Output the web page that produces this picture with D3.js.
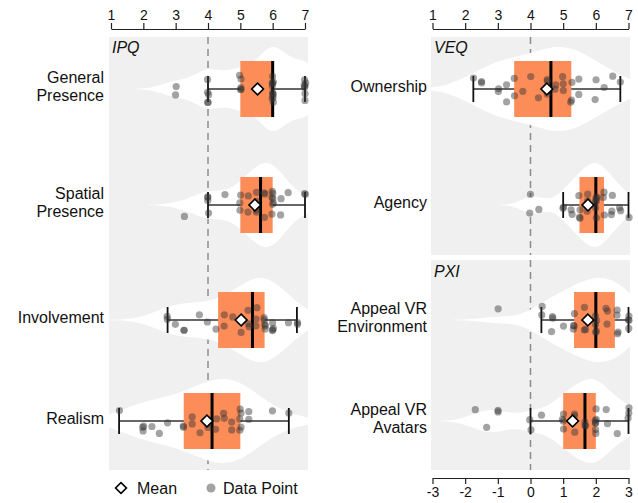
<!DOCTYPE html>
<html>
<head>
<meta charset="utf-8">
<script src="https://cdn.jsdelivr.net/npm/d3@7"></script>
<style>
  body { margin: 0; background: #fff; }
  svg text { font-family: "Liberation Sans", Arial, Helvetica, sans-serif; }
</style>
</head>
<body>
<svg id="chart" width="638" height="503"></svg>
<script>
// ---- Participant scores (n = 30) ----
// IPQ subscales, 1..7
const generalPresence = [3, 3, 4, 4, 4, 4, 4, 5, 5, 5, 5, 5, 6, 6, 6, 6, 6, 6, 6, 6, 6, 6, 6, 7, 7, 7, 7, 7, 7, 7];
const spatialPresence = [3.25, 4, 4, 4, 4, 4.5, 5, 5, 5, 5.25, 5.25, 5.5, 5.5, 5.5, 5.5, 5.75, 5.75, 5.75, 6, 6, 6, 6, 6, 6, 6, 6.25, 6.25, 6.5, 7, 7];
const involvement = [2.75, 2.75, 3, 3.25, 3.25, 3.75, 4, 4.25, 4.5, 4.5, 4.75, 5, 5.25, 5.25, 5.25, 5.5, 5.5, 5.5, 5.75, 5.75, 5.75, 5.75, 5.75, 6, 6, 6, 6, 6.5, 6.75, 6.75];
const realism = [1.25, 2, 2, 2, 2.25, 2.5, 2.75, 3.25, 3.25, 3.5, 3.5, 3.75, 4, 4, 4, 4.25, 4.25, 4.5, 4.5, 4.75, 4.75, 5, 5, 5, 5, 5, 5.25, 5.25, 6, 6.5];
// VEQ subscales, 1..7
const ownership = [2.25, 2.5, 2.5, 3, 3, 3.25, 3.25, 3.5, 3.5, 3.75, 4, 4.25, 4.5, 4.5, 4.5, 4.75, 4.75, 5, 5, 5, 5.25, 5.25, 5.25, 5.5, 5.5, 6, 6, 6.25, 6.5, 6.75];
const agency = [4, 4, 4.25, 5, 5, 5.25, 5.25, 5.5, 5.5, 5.5, 5.5, 5.75, 5.75, 5.75, 6, 6, 6, 6, 6, 6, 6, 6.25, 6.25, 6.25, 6.5, 6.5, 6.5, 6.75, 6.75, 7];
// PXI items, -3..3
const appealEnvironment = [-1, 0.333, 0.333, 0.667, 0.667, 0.667, 1, 1.333, 1.333, 1.333, 1.333, 1.667, 1.667, 1.667, 2, 2, 2, 2, 2, 2.333, 2.333, 2.333, 2.667, 2.667, 2.667, 2.667, 3, 3, 3, 3];
const appealAvatars = [-1.667, -1.333, -1, -1, 0, 0, 0.333, 1, 1, 1, 1, 1.333, 1.333, 1.333, 1.667, 1.667, 1.667, 2, 2, 2, 2, 2, 2, 2, 2.333, 2.333, 2.667, 3, 3, 3];

// ---- Labels ----
const ipqLabels = [["General", "Presence"], ["Spatial", "Presence"], ["Involvement"], ["Realism"]];
const veqLabels = [["Ownership"], ["Agency"]];
const pxiLabels = [["Appeal VR", "Environment"], ["Appeal VR", "Avatars"]];
const sectionTitles = ["IPQ", "VEQ", "PXI"];
const likertTicks = [1, 2, 3, 4, 5, 6, 7];
const bipolarTicks = [-3, -2, -1, 0, 1, 2, 3];
const legendLabels = ["Mean", "Data Point"];

// ---- Layout ----
const svg = d3.select("#chart");
const leftPanel = { x0: 109, x1: 308 };
const rightPanel = { x0: 431, x1: 630 };
const topBand = { y0: 37, y1: 255 };
const bottomBand = { y0: 260, y1: 470 };

const xLeft = d3.scaleLinear().domain([1, 7]).range([111, 305]);
const xRightTop = d3.scaleLinear().domain([1, 7]).range([432.5, 628.5]);
const xRightBottom = d3.scaleLinear().domain([-3, 3]).range([432.5, 628.5]);

// row centres: two rows in the upper band, two in the lower band
const yUpper = d3.scalePoint().domain([0, 1]).range([89, 205]);
const yLower = d3.scalePoint().domain([2, 3]).range([320, 421]);
const rowY = slot => (slot < 2 ? yUpper(slot) : yLower(slot));

const rows = [
  { values: generalPresence, label: ipqLabels[0], slot: 0, x: xLeft, panel: leftPanel },
  { values: spatialPresence, label: ipqLabels[1], slot: 1, x: xLeft, panel: leftPanel },
  { values: involvement, label: ipqLabels[2], slot: 2, x: xLeft, panel: leftPanel },
  { values: realism, label: ipqLabels[3], slot: 3, x: xLeft, panel: leftPanel },
  { values: ownership, label: veqLabels[0], slot: 0, x: xRightTop, panel: rightPanel },
  { values: agency, label: veqLabels[1], slot: 1, x: xRightTop, panel: rightPanel },
  { values: appealEnvironment, label: pxiLabels[0], slot: 2, x: xRightBottom, panel: rightPanel },
  { values: appealAvatars, label: pxiLabels[1], slot: 3, x: xRightBottom, panel: rightPanel }
];

const BOX_HALF = 28;
const VIOLIN_HALF = 42;
const CAP_HALF = 13;
const JITTER_H = 14;
const BW_ADJUST = 1.3;
const ORANGE = "#fc8d59";
const BG = "#f0f0f0";

// seeded jitter so the layout is stable between renders
const jitter = d3.randomUniform.source(d3.randomLcg(0.4217))(-1, 1);

// ---- Panel backgrounds ----
const panels = [
  { p: leftPanel, b: { y0: topBand.y0, y1: bottomBand.y1 } },
  { p: rightPanel, b: topBand },
  { p: rightPanel, b: bottomBand }
];
svg.selectAll("rect.panel").data(panels).join("rect")
  .attr("class", "panel")
  .attr("x", d => d.p.x0).attr("y", d => d.b.y0)
  .attr("width", d => d.p.x1 - d.p.x0).attr("height", d => d.b.y1 - d.b.y0)
  .attr("fill", BG);

// ---- Reference lines (scale midpoints) ----
const refLines = [
  { x: xLeft(4), y0: topBand.y0, y1: bottomBand.y1 },
  { x: xRightTop(4), y0: topBand.y0, y1: topBand.y1 },
  { x: xRightBottom(0), y0: bottomBand.y0, y1: bottomBand.y1 }
];
svg.selectAll("line.ref").data(refLines).join("line")
  .attr("class", "ref")
  .attr("x1", d => d.x).attr("x2", d => d.x)
  .attr("y1", d => d.y0).attr("y2", d => d.y1)
  .attr("stroke", "#8c8c8c").attr("stroke-width", 1.5)
  .attr("stroke-dasharray", "7,5");

// ---- Statistics ----
function stats(values) {
  const s = values.slice().sort(d3.ascending);
  const q1 = d3.quantile(s, 0.25), med = d3.quantile(s, 0.5), q3 = d3.quantile(s, 0.75);
  const iqr = q3 - q1;
  const lo = d3.min(s.filter(v => v >= q1 - 1.5 * iqr));
  const hi = d3.max(s.filter(v => v <= q3 + 1.5 * iqr));
  return { q1, med, q3, lo, hi, mean: d3.mean(s), iqr };
}

// Gaussian kernel density estimate across the visible range
function density(values, x, panel) {
  const st = stats(values);
  const sd = d3.deviation(values);
  const bw = BW_ADJUST * 0.9 * Math.min(sd, st.iqr / 1.34) * Math.pow(values.length, -0.2);
  const from = Math.max(x.invert(panel.x0), d3.min(values) - 3 * bw);
  const to = Math.min(x.invert(panel.x1), d3.max(values) + 3 * bw);
  const grid = d3.range(0, 121).map(i => from + (to - from) * i / 120);
  const k = u => Math.exp(-0.5 * u * u) / Math.sqrt(2 * Math.PI);
  return grid.map(g => [g, d3.mean(values, v => k((g - v) / bw)) / bw]);
}

const gViolins = svg.append("g");
const gBoxes = svg.append("g");
const gPoints = svg.append("g");
const gTop = svg.append("g");

rows.forEach(r => {
  const cy = rowY(r.slot);
  const st = stats(r.values);
  const dens = density(r.values, r.x, r.panel);
  const w = d3.scaleLinear().domain([0, d3.max(dens, d => d[1])]).range([0, VIOLIN_HALF]);

  gViolins.append("path")
    .datum(dens)
    .attr("d", d3.area().curve(d3.curveBasis)
      .x(d => r.x(d[0]))
      .y0(d => cy - w(d[1]))
      .y1(d => cy + w(d[1])))
    .attr("fill", "#fff");

  // whiskers
  gBoxes.append("line")
    .attr("x1", r.x(st.lo)).attr("x2", r.x(st.hi))
    .attr("y1", cy).attr("y2", cy)
    .attr("stroke", "#333").attr("stroke-width", 1.6);
  gBoxes.selectAll(null).data([st.lo, st.hi]).join("line")
    .attr("x1", d => r.x(d)).attr("x2", d => r.x(d))
    .attr("y1", cy - CAP_HALF).attr("y2", cy + CAP_HALF)
    .attr("stroke", "#111").attr("stroke-width", 1.8);

  // IQR box
  gBoxes.append("rect")
    .attr("x", r.x(st.q1)).attr("width", r.x(st.q3) - r.x(st.q1))
    .attr("y", cy - BOX_HALF).attr("height", 2 * BOX_HALF)
    .attr("fill", ORANGE);

  // median
  gBoxes.append("line")
    .attr("x1", r.x(st.med)).attr("x2", r.x(st.med))
    .attr("y1", cy - BOX_HALF).attr("y2", cy + BOX_HALF)
    .attr("stroke", "#000").attr("stroke-width", 3);

  // data points with vertical jitter
  gPoints.selectAll(null).data(r.values).join("circle")
    .attr("cx", d => r.x(d) + jitter() * 0.8)
    .attr("cy", () => cy + jitter() * JITTER_H)
    .attr("r", 3.6)
    .attr("fill", "#333")
    .attr("fill-opacity", 0.45);

  // mean
  gTop.append("path")
    .attr("d", d3.symbol(d3.symbolSquare, 70)())
    .attr("transform", `translate(${r.x(st.mean)},${cy}) rotate(45)`)
    .attr("fill", "#fff").attr("stroke", "#000").attr("stroke-width", 1.6);

  // row label
  const tx = r.panel === leftPanel ? 104 : 427;
  const lines = r.label;
  const lh = 18;
  const t = svg.append("text")
    .attr("text-anchor", "end")
    .attr("font-size", 16)
    .attr("fill", "#111");
  lines.forEach((ln, i) => {
    t.append("tspan")
      .attr("x", tx)
      .attr("y", cy - 3 + 5.5 + (i - (lines.length - 1) / 2) * lh)
      .text(ln);
  });
});

// ---- Section titles ----
const titlePos = [
  { t: sectionTitles[0], x: leftPanel.x0 + 3, y: topBand.y0 + 16 },
  { t: sectionTitles[1], x: rightPanel.x0 + 3, y: topBand.y0 + 16 },
  { t: sectionTitles[2], x: rightPanel.x0 + 3, y: bottomBand.y0 + 17 }
];
svg.selectAll("text.title").data(titlePos).join("text")
  .attr("class", "title")
  .attr("x", d => d.x).attr("y", d => d.y)
  .attr("font-size", 16).attr("font-style", "italic").attr("fill", "#111")
  .text(d => d.t);

// ---- Axes ----
function styleAxis(g) {
  g.selectAll("path.domain").attr("stroke", "#222").attr("stroke-width", 1.2);
  g.selectAll(".tick line").attr("stroke", "#222").attr("stroke-width", 1.2);
  g.selectAll(".tick text").attr("font-size", 14).attr("fill", "#111")
    .attr("font-family", "'Liberation Sans', Arial, sans-serif");
}
svg.append("g").attr("transform", "translate(0,29)")
  .call(d3.axisTop(xLeft).tickValues(likertTicks).tickFormat(d3.format("d")).tickSize(6).tickSizeOuter(0))
  .call(styleAxis);
svg.append("g").attr("transform", "translate(0,29)")
  .call(d3.axisTop(xRightTop).tickValues(likertTicks).tickFormat(d3.format("d")).tickSize(6).tickSizeOuter(0))
  .call(styleAxis);
svg.append("g").attr("transform", "translate(0,478)")
  .call(d3.axisBottom(xRightBottom).tickValues(bipolarTicks).tickFormat(d => d < 0 ? "-" + Math.abs(d) : d).tickSize(6).tickSizeOuter(0))
  .call(styleAxis);

// ---- Legend ----
const legend = svg.append("g").attr("transform", "translate(0,488)");
legend.append("path")
  .attr("d", d3.symbol(d3.symbolSquare, 60)())
  .attr("transform", "translate(121,0) rotate(45)")
  .attr("fill", "#fff").attr("stroke", "#000").attr("stroke-width", 1.6);
legend.append("text").attr("x", 137).attr("y", 5.5).attr("font-size", 16).attr("fill", "#111").text(legendLabels[0]);
legend.append("circle").attr("cx", 211).attr("cy", 0).attr("r", 4.5)
  .attr("fill", "#333").attr("fill-opacity", 0.45);
legend.append("text").attr("x", 223).attr("y", 5.5).attr("font-size", 16).attr("fill", "#111").text(legendLabels[1]);
</script>
</body>
</html>
